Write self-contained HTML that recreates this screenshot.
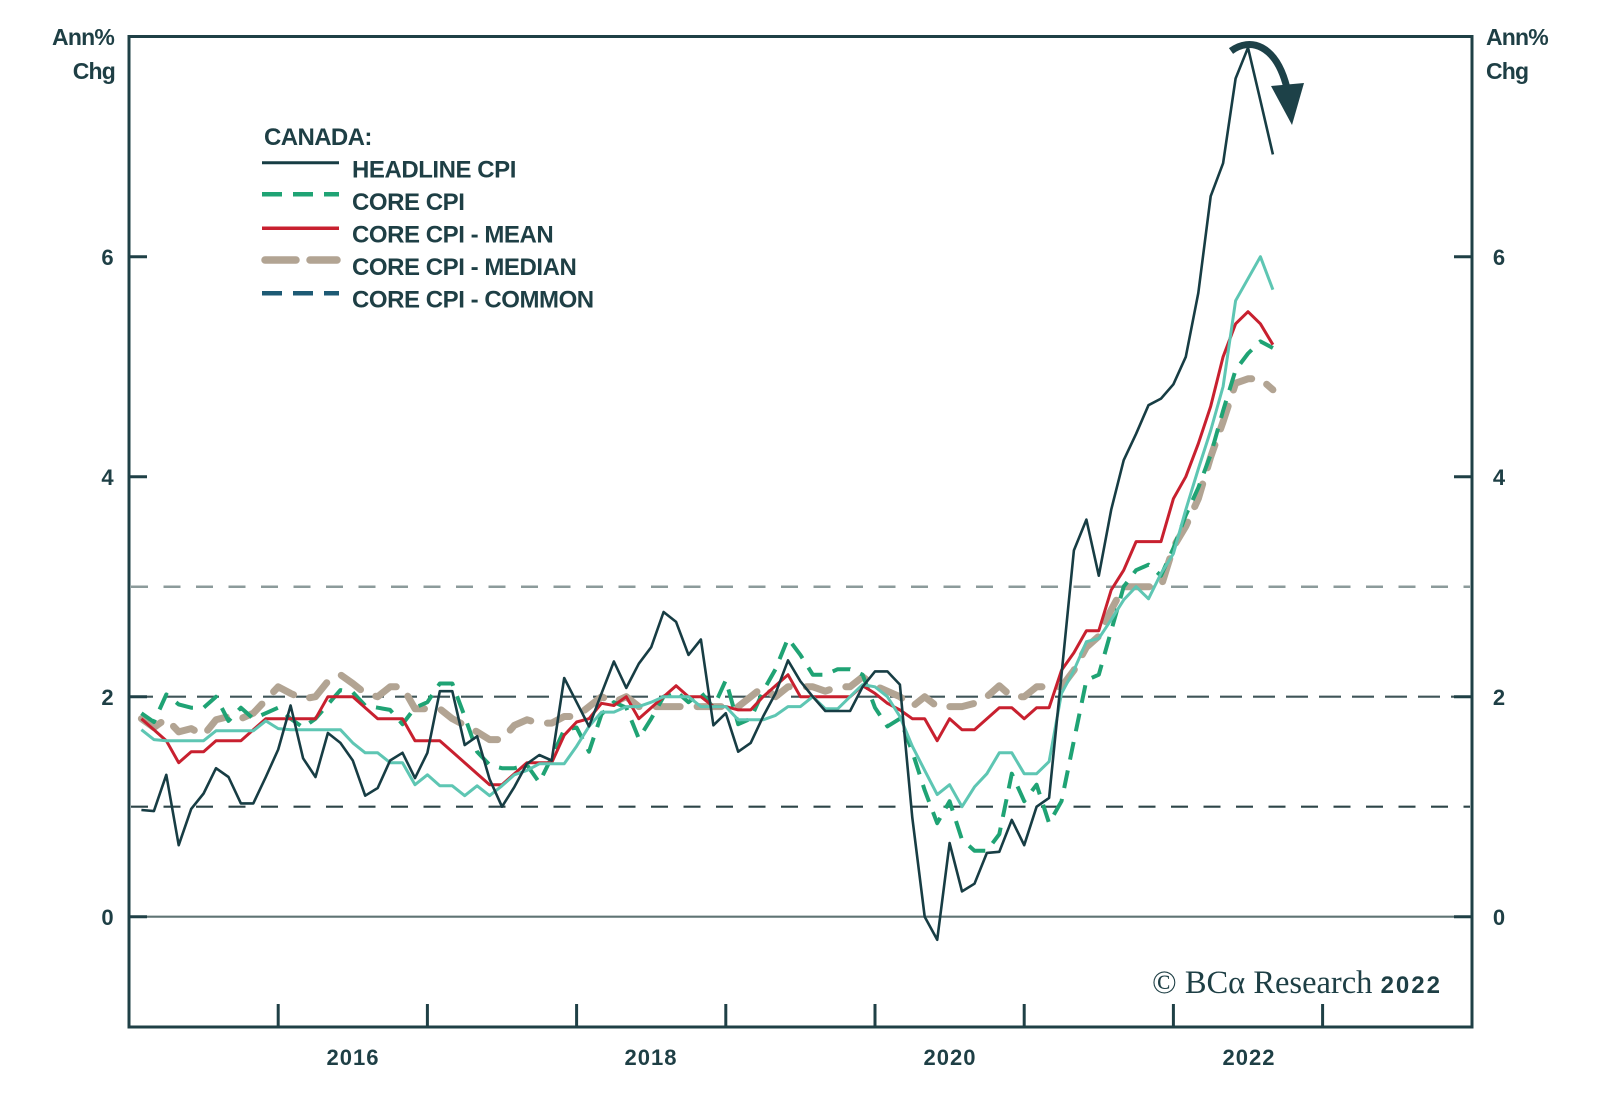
<!DOCTYPE html>
<html>
<head>
<meta charset="utf-8">
<style>
  html, body { margin: 0; padding: 0; background: #ffffff; }
  svg { display: block; }
  .t { font-family: "Liberation Sans", "DejaVu Sans", sans-serif; font-weight: bold; fill: #1e3f45; }
</style>
</head>
<body>
<svg width="1600" height="1119" viewBox="0 0 1600 1119" xmlns="http://www.w3.org/2000/svg">
  <rect x="0" y="0" width="1600" height="1119" fill="#ffffff"/>

  <!-- reference lines -->
  <line x1="131" y1="586.7" x2="1470" y2="586.7" stroke="#8c9b9b" stroke-width="2.5" stroke-dasharray="17 15.5"/>
  <line x1="131" y1="696.7" x2="1470" y2="696.7" stroke="#3f5558" stroke-width="2.2" stroke-dasharray="22 11"/>
  <line x1="131" y1="806.7" x2="1470" y2="806.7" stroke="#2d4548" stroke-width="2.2" stroke-dasharray="17 15.5"/>
  <line x1="129" y1="916.7" x2="1472" y2="916.7" stroke="#5f7474" stroke-width="2.2"/>

  <!-- series -->
  <g fill="none" stroke-linejoin="round">
    <!-- median -->
    <polyline stroke="#b2a493" stroke-width="7" stroke-linecap="round" stroke-dasharray="24 17"
      points="141.4,718.7 153.9,727.5 166.3,718.7 178.7,731.9 191.2,728.6 203.6,735.2 216.0,719.8 228.5,716.5 240.9,718.7 253.3,713.2 265.8,700.0 278.2,686.8 290.6,693.4 303.1,698.9 315.5,696.7 327.9,681.3 340.4,674.7 352.8,683.5 365.2,693.4 377.7,696.7 390.1,686.8 402.5,686.8 415.0,708.8 427.4,708.8 439.8,708.8 452.3,718.7 464.7,725.3 477.1,731.9 489.6,739.6 502.0,739.6 514.4,725.3 526.9,719.8 539.3,723.1 551.7,723.1 564.2,716.5 576.6,716.5 589.0,706.6 601.5,696.7 613.9,702.2 626.3,696.7 638.8,706.6 651.2,706.6 663.6,706.6 676.1,706.6 688.5,706.6 700.9,706.6 713.4,706.6 725.8,706.6 738.2,706.6 750.7,696.7 763.1,686.8 775.5,696.7 788.0,686.8 800.4,686.8 812.8,686.8 825.3,691.2 837.7,686.8 850.1,686.8 862.6,676.9 875.0,685.7 887.4,691.2 899.9,696.7 912.3,706.6 924.7,696.7 937.2,706.6 949.6,706.6 962.0,706.6 974.5,703.3 986.9,696.7 999.3,685.7 1011.8,696.7 1024.2,696.7 1036.6,686.8 1049.1,686.8 1061.5,686.8 1073.9,670.3 1086.4,647.2 1098.8,636.2 1111.2,609.8 1123.7,586.7 1136.1,586.7 1148.5,586.7 1161.0,586.7 1173.4,547.1 1185.8,526.2 1198.3,498.7 1210.7,456.9 1223.1,421.7 1235.6,383.2 1248.0,378.8 1260.4,378.8 1272.9,389.8"/>
    <!-- core CPI (green dashed) -->
    <polyline stroke="#1fa374" stroke-width="4" stroke-dasharray="18 11"
      points="141.4,713.2 153.9,722.0 166.3,694.5 178.7,704.4 191.2,707.7 203.6,707.7 216.0,696.7 228.5,720.9 240.9,707.7 253.3,718.7 265.8,713.2 278.2,707.7 290.6,718.7 303.1,727.5 315.5,718.7 327.9,704.4 340.4,690.1 352.8,692.3 365.2,705.5 377.7,707.7 390.1,709.9 402.5,724.2 415.0,707.7 427.4,702.2 439.8,683.5 452.3,683.5 464.7,716.5 477.1,751.7 489.6,764.9 502.0,768.2 514.4,768.2 526.9,764.9 539.3,782.5 551.7,757.2 564.2,729.7 576.6,727.5 589.0,751.7 601.5,714.3 613.9,702.2 626.3,707.7 638.8,738.5 651.2,718.7 663.6,696.7 676.1,691.2 688.5,702.2 700.9,692.3 713.4,707.7 725.8,680.2 738.2,724.2 750.7,718.7 763.1,691.2 775.5,669.2 788.0,638.4 800.4,654.9 812.8,674.7 825.3,674.7 837.7,669.2 850.1,669.2 862.6,674.7 875.0,707.7 887.4,726.4 899.9,718.7 912.3,751.7 924.7,790.2 937.2,823.2 949.6,801.2 962.0,839.7 974.5,850.7 986.9,850.7 999.3,834.2 1011.8,773.7 1024.2,801.2 1036.6,784.7 1049.1,823.2 1061.5,801.2 1073.9,740.7 1086.4,680.2 1098.8,674.7 1111.2,630.7 1123.7,586.7 1136.1,570.2 1148.5,564.7 1161.0,575.7 1173.4,548.2 1185.8,515.2 1198.3,487.7 1210.7,454.7 1223.1,410.7 1235.6,370.0 1248.0,353.5 1260.4,341.4 1272.9,348.0"/>
    <!-- mean (red) -->
    <polyline stroke="#c8202f" stroke-width="3"
      points="141.4,718.7 153.9,729.7 166.3,740.7 178.7,762.7 191.2,751.7 203.6,751.7 216.0,740.7 228.5,740.7 240.9,740.7 253.3,729.7 265.8,718.7 278.2,718.7 290.6,718.7 303.1,718.7 315.5,718.7 327.9,696.7 340.4,696.7 352.8,696.7 365.2,707.7 377.7,718.7 390.1,718.7 402.5,718.7 415.0,740.7 427.4,740.7 439.8,740.7 452.3,751.7 464.7,762.7 477.1,773.7 489.6,784.7 502.0,784.7 514.4,773.7 526.9,762.7 539.3,762.7 551.7,762.7 564.2,735.2 576.6,722.0 589.0,718.7 601.5,703.3 613.9,705.5 626.3,696.7 638.8,718.7 651.2,707.7 663.6,696.7 676.1,685.7 688.5,696.7 700.9,696.7 713.4,706.6 725.8,706.6 738.2,709.9 750.7,709.9 763.1,696.7 775.5,685.7 788.0,674.7 800.4,696.7 812.8,696.7 825.3,696.7 837.7,696.7 850.1,696.7 862.6,685.7 875.0,693.4 887.4,703.3 899.9,709.9 912.3,718.7 924.7,718.7 937.2,740.7 949.6,718.7 962.0,729.7 974.5,729.7 986.9,718.7 999.3,707.7 1011.8,707.7 1024.2,718.7 1036.6,707.7 1049.1,707.7 1061.5,670.3 1073.9,652.7 1086.4,630.7 1098.8,630.7 1111.2,590.0 1123.7,570.2 1136.1,541.6 1148.5,541.6 1161.0,541.6 1173.4,498.7 1185.8,476.7 1198.3,443.7 1210.7,406.3 1223.1,356.8 1235.6,323.8 1248.0,311.7 1260.4,323.8 1272.9,344.7"/>
    <!-- teal -->
    <polyline stroke="#5ec6b3" stroke-width="3"
      points="141.4,729.7 153.9,739.6 166.3,740.7 178.7,740.7 191.2,740.7 203.6,740.7 216.0,730.8 228.5,730.8 240.9,730.8 253.3,730.8 265.8,720.9 278.2,728.6 290.6,729.7 303.1,729.7 315.5,729.7 327.9,729.7 340.4,729.7 352.8,742.9 365.2,752.8 377.7,752.8 390.1,762.7 402.5,762.7 415.0,784.7 427.4,774.8 439.8,785.8 452.3,785.8 464.7,795.7 477.1,785.8 489.6,795.7 502.0,785.8 514.4,774.8 526.9,770.4 539.3,763.8 551.7,763.8 564.2,763.8 576.6,746.2 589.0,726.4 601.5,712.1 613.9,712.1 626.3,706.6 638.8,706.6 651.2,702.2 663.6,696.7 676.1,696.7 688.5,696.7 700.9,706.6 713.4,706.6 725.8,706.6 738.2,719.8 750.7,719.8 763.1,719.8 775.5,715.4 788.0,706.6 800.4,706.6 812.8,696.7 825.3,708.8 837.7,708.8 850.1,696.7 862.6,684.6 875.0,686.8 887.4,696.7 899.9,716.5 912.3,746.2 924.7,770.4 937.2,794.6 949.6,784.7 962.0,806.7 974.5,786.9 986.9,773.7 999.3,752.8 1011.8,752.8 1024.2,773.7 1036.6,773.7 1049.1,761.6 1061.5,693.4 1073.9,670.3 1086.4,641.7 1098.8,638.4 1111.2,619.7 1123.7,599.9 1136.1,586.7 1148.5,598.8 1161.0,573.5 1173.4,553.7 1185.8,509.7 1198.3,469.0 1210.7,430.5 1223.1,386.5 1235.6,300.7 1248.0,278.7 1260.4,256.7 1272.9,289.7"/>
    <!-- headline -->
    <polyline stroke="#173d44" stroke-width="2.6"
      points="141.4,810.0 153.9,811.1 166.3,774.8 178.7,845.2 191.2,808.9 203.6,793.5 216.0,768.2 228.5,777.0 240.9,803.4 253.3,803.4 265.8,777.0 278.2,749.5 290.6,705.5 303.1,758.3 315.5,777.0 327.9,733.0 340.4,742.9 352.8,760.5 365.2,795.7 377.7,788.0 390.1,760.5 402.5,752.8 415.0,778.1 427.4,752.8 439.8,691.2 452.3,691.2 464.7,745.1 477.1,736.3 489.6,779.2 502.0,806.7 514.4,786.9 526.9,763.8 539.3,755.0 551.7,760.5 564.2,678.0 576.6,702.2 589.0,726.4 601.5,693.4 613.9,661.5 626.3,687.9 638.8,663.7 651.2,647.2 663.6,612.0 676.1,621.9 688.5,654.9 700.9,639.5 713.4,725.3 725.8,713.2 738.2,751.7 750.7,742.9 763.1,716.5 775.5,693.4 788.0,660.4 800.4,681.3 812.8,696.7 825.3,711.0 837.7,711.0 850.1,711.0 862.6,686.8 875.0,671.4 887.4,671.4 899.9,684.6 912.3,817.7 924.7,916.7 937.2,939.8 949.6,843.0 962.0,891.4 974.5,883.7 986.9,852.9 999.3,851.8 1011.8,819.9 1024.2,845.2 1036.6,806.7 1049.1,797.9 1061.5,674.7 1073.9,550.4 1086.4,519.6 1098.8,575.7 1111.2,509.7 1123.7,460.2 1136.1,433.8 1148.5,405.2 1161.0,398.6 1173.4,384.3 1185.8,356.8 1198.3,293.0 1210.7,196.2 1223.1,163.2 1235.6,78.5 1248.0,47.7 1260.4,100.5 1272.9,154.4"/>
  </g>

  <!-- curved arrow -->
  <path d="M1231,51 C1250,37 1276,44 1287,88" fill="none" stroke="#1d4148" stroke-width="7"/>
  <polygon points="1271,86 1304,83 1292,125" fill="#1d4148"/>

  <!-- frame -->
  <rect x="129" y="36.5" width="1343" height="990.5" fill="none" stroke="#1f4046" stroke-width="3"/>

  <!-- y ticks -->
  <g stroke="#1f4046" stroke-width="3">
    <line x1="129" y1="256.7" x2="147" y2="256.7"/>
    <line x1="129" y1="476.7" x2="147" y2="476.7"/>
    <line x1="129" y1="696.7" x2="147" y2="696.7"/>
    <line x1="129" y1="916.7" x2="147" y2="916.7"/>
    <line x1="1454" y1="256.7" x2="1472" y2="256.7"/>
    <line x1="1454" y1="476.7" x2="1472" y2="476.7"/>
    <line x1="1454" y1="696.7" x2="1472" y2="696.7"/>
    <line x1="1454" y1="916.7" x2="1472" y2="916.7"/>
    <!-- x ticks -->
    <line x1="278.2" y1="1004" x2="278.2" y2="1027"/>
    <line x1="427.4" y1="1004" x2="427.4" y2="1027"/>
    <line x1="576.6" y1="1004" x2="576.6" y2="1027"/>
    <line x1="725.8" y1="1004" x2="725.8" y2="1027"/>
    <line x1="875.0" y1="1004" x2="875.0" y2="1027"/>
    <line x1="1024.2" y1="1004" x2="1024.2" y2="1027"/>
    <line x1="1173.4" y1="1004" x2="1173.4" y2="1027"/>
    <line x1="1322.6" y1="1004" x2="1322.6" y2="1027"/>
  </g>

  <!-- y tick labels -->
  <g class="t" font-size="22" text-anchor="middle">
    <text x="107.5" y="265">6</text>
    <text x="107.5" y="485">4</text>
    <text x="107.5" y="705">2</text>
    <text x="107.5" y="925">0</text>
    <text x="1499" y="265">6</text>
    <text x="1499" y="485">4</text>
    <text x="1499" y="705">2</text>
    <text x="1499" y="925">0</text>
  </g>

  <!-- axis titles -->
  <g class="t" font-size="23" letter-spacing="-0.8">
    <text x="114" y="45" text-anchor="end">Ann%</text>
    <text x="115" y="79" text-anchor="end">Chg</text>
    <text x="1486" y="45">Ann%</text>
    <text x="1486" y="79">Chg</text>
  </g>

  <!-- x labels -->
  <g class="t" font-size="22" text-anchor="middle" letter-spacing="1">
    <text x="353" y="1065">2016</text>
    <text x="651" y="1065">2018</text>
    <text x="950" y="1065">2020</text>
    <text x="1249" y="1065">2022</text>
  </g>

  <!-- legend -->
  <text class="t" x="264" y="145" font-size="24" letter-spacing="-0.6">CANADA:</text>
  <line x1="262" y1="162.7" x2="339" y2="162.7" stroke="#173d44" stroke-width="3"/>
  <line x1="262" y1="194.3" x2="339" y2="194.3" stroke="#1fa374" stroke-width="4.5" stroke-dasharray="20 11"/>
  <line x1="262" y1="228.3" x2="339" y2="228.3" stroke="#c8202f" stroke-width="3.5"/>
  <line x1="265" y1="260" x2="337" y2="260" stroke="#b2a493" stroke-width="7.5" stroke-linecap="round" stroke-dasharray="31 14"/>
  <line x1="262" y1="293.3" x2="339" y2="293.3" stroke="#1d5a74" stroke-width="4.5" stroke-dasharray="20 11"/>
  <g class="t" font-size="24" letter-spacing="-0.45">
    <text x="352" y="177.5">HEADLINE CPI</text>
    <text x="352" y="210">CORE CPI</text>
    <text x="352" y="242.3">CORE CPI - MEAN</text>
    <text x="352" y="275">CORE CPI - MEDIAN</text>
    <text x="352" y="307.3">CORE CPI - COMMON</text>
  </g>

  <!-- copyright -->
  <text x="1152" y="993" fill="#1e3f45"><tspan font-family="'Liberation Serif', 'DejaVu Serif', serif" font-size="32.5">© BCα Research </tspan><tspan font-family="'Liberation Sans', sans-serif" font-weight="bold" font-size="24" letter-spacing="2">2022</tspan></text>
</svg>
</body>
</html>
